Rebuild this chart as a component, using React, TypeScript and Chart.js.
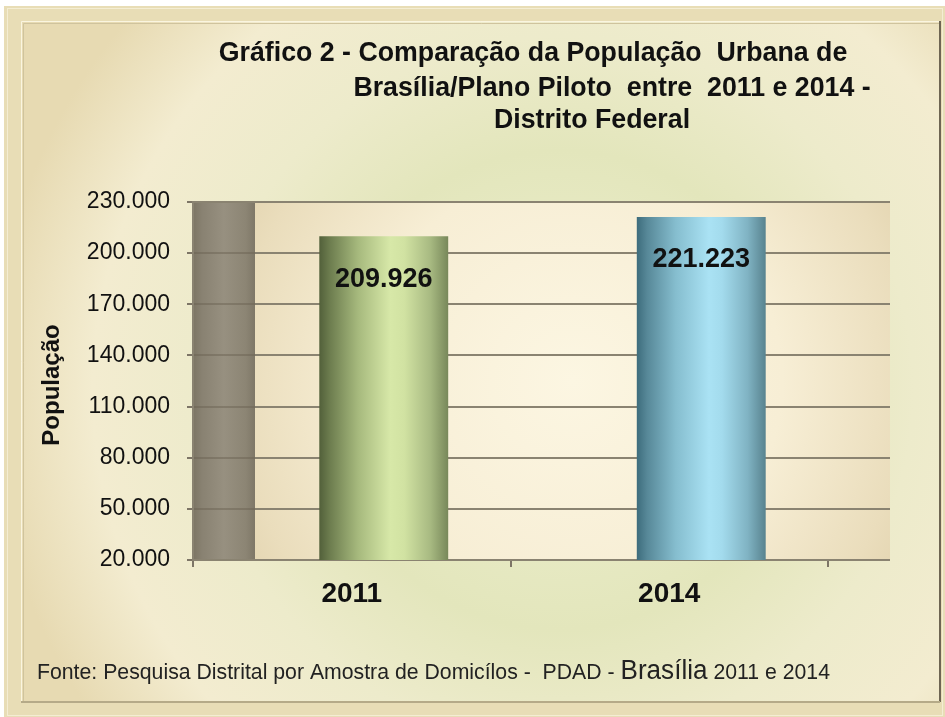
import React, { useEffect, useRef } from 'react';
import { Chart, registerables } from 'chart.js';

Chart.register(...registerables);

// ---------- data ----------
const categories = ['2011', '2014'];
const populationValues = [209926, 221223];
const Y_MIN = 20000;
const Y_MAX = 230000;
const Y_STEP = 30000;
const titleLines = [
  'Gráfico 2 - Comparação da População  Urbana de',
  'Brasília/Plano Piloto  entre  2011 e 2014 -',
  'Distrito Federal',
];
const yAxisTitle = 'População';
const footerParts = ['Fonte: Pesquisa Distrital por Amostra de Domicílos -  PDAD - ', 'Brasília', ' 2011 e 2014'];

// ---------- styling ----------
const FONT = '"Liberation Sans", Arial, sans-serif';
const W = 945;
const H = 717;
const DEPTH = 62; // 3D wall depth offset
const BAR_SHIFT = 32; // bars sit at mid depth
const BAR_PCT = 0.406;

const greenStops: [number, string][] = [
  [0, '#52603A'], [0.08, '#6C7C4E'], [0.3, '#A6B97D'], [0.55, '#D7E8A8'],
  [0.66, '#D1E2A2'], [0.86, '#A8BA82'], [1, '#78885A'],
];
const blueStops: [number, string][] = [
  [0, '#3D6C7C'], [0.08, '#578898'], [0.3, '#85BDCE'], [0.56, '#AAE2F4'],
  [0.66, '#A3DBED'], [0.86, '#80B3C3'], [1, '#58838F'],
];
const barStops = [greenStops, blueStops];

const fmt = (v: number) => Math.round(v).toString().replace(/\B(?=(\d{3})+(?!\d))/g, '.');

const decorPlugin = {
  id: 'decor',
  beforeDraw(chart: any) {
    const { ctx, chartArea: a } = chart;
    ctx.save();
    // page + outer frame
    ctx.fillStyle = '#FFFFFF';
    ctx.fillRect(0, 0, W, H);
    ctx.fillStyle = '#E8DDB6';
    ctx.fillRect(4, 6, W - 4, H - 6);
    ctx.strokeStyle = '#F4EDD3';
    ctx.lineWidth = 1;
    ctx.strokeRect(7.5, 8.5, W - 10, H - 10);

    // inner panel
    const px = 21, py = 21, pw = 919, ph = 681;
    const g = ctx.createRadialGradient(560, 390, 0, 560, 390, 570);
    g.addColorStop(0, '#EEF0D0');
    g.addColorStop(0.42, '#E3E6BC');
    g.addColorStop(0.62, '#EDEBCB');
    g.addColorStop(0.82, '#F3ECD0');
    g.addColorStop(1, '#E7DAB2');
    ctx.fillStyle = g;
    ctx.fillRect(px, py, pw, ph);
    ctx.strokeStyle = '#FAF5E0';
    ctx.beginPath();
    ctx.moveTo(px + 0.5, py + ph);
    ctx.lineTo(px + 0.5, py + 0.5);
    ctx.lineTo(px + pw, py + 0.5);
    ctx.stroke();
    ctx.strokeStyle = '#CFC39D';
    ctx.beginPath();
    ctx.moveTo(px + 2.5, py + ph);
    ctx.lineTo(px + 2.5, py + 2.5);
    ctx.lineTo(px + pw, py + 2.5);
    ctx.stroke();
    ctx.strokeStyle = '#6E6552';
    ctx.lineWidth = 2;
    ctx.beginPath();
    ctx.moveTo(px + pw, py);
    ctx.lineTo(px + pw, py + ph);
    ctx.stroke();
    ctx.strokeStyle = '#B5AA88';
    ctx.beginPath();
    ctx.moveTo(px, py + ph);
    ctx.lineTo(px + pw, py + ph);
    ctx.stroke();

    // side wall
    const sg = ctx.createLinearGradient(a.left, 0, a.left + DEPTH, 0);
    sg.addColorStop(0, '#7C7564');
    sg.addColorStop(0.15, '#898272');
    sg.addColorStop(0.5, '#979080');
    sg.addColorStop(0.85, '#8C8574');
    sg.addColorStop(1, '#7E7767');
    ctx.fillStyle = sg;
    ctx.fillRect(a.left, a.top, DEPTH, a.bottom - a.top);

    // back wall
    const bx = a.left + DEPTH;
    const bw = a.right - a.left;
    const cx = bx + bw / 2;
    const cy = (a.top + a.bottom) / 2;
    const bg = ctx.createRadialGradient(cx, cy, 0, cx, cy, 420);
    bg.addColorStop(0, '#FCF6E2');
    bg.addColorStop(0.5, '#F7EED5');
    bg.addColorStop(0.8, '#EADDBC');
    bg.addColorStop(1, '#DDCDA6');
    ctx.fillStyle = bg;
    ctx.fillRect(bx, a.top, bw, a.bottom - a.top);

    // gridlines from the y scale
    const ys = chart.scales.y;
    ys.ticks.forEach((t: any) => {
      const y = Math.round(ys.getPixelForValue(t.value));
      ctx.strokeStyle = 'rgba(105,96,80,0.45)';
      ctx.lineWidth = 2;
      ctx.beginPath();
      ctx.moveTo(a.left, y);
      ctx.lineTo(bx, y);
      ctx.stroke();
      ctx.strokeStyle = '#8A8371';
      ctx.beginPath();
      ctx.moveTo(bx, y);
      ctx.lineTo(a.right + DEPTH, y);
      ctx.stroke();
    });
    // top edge and floor
    ctx.strokeStyle = '#8A8371';
    ctx.lineWidth = 2;
    ctx.beginPath();
    ctx.moveTo(a.left, Math.round(a.top));
    ctx.lineTo(a.right + DEPTH, Math.round(a.top));
    ctx.moveTo(a.left, Math.round(a.bottom));
    ctx.lineTo(a.right + DEPTH, Math.round(a.bottom));
    ctx.stroke();

    // title
    ctx.fillStyle = '#111111';
    ctx.font = `bold 28px ${FONT}`;
    ctx.textAlign = 'center';
    ctx.textBaseline = 'middle';
    const titlePos: [number, number][] = [[533, 53], [612, 88], [592, 120]];
    titleLines.forEach((line, i) => {
      ctx.save();
      ctx.translate(titlePos[i][0], titlePos[i][1]);
      ctx.scale(0.955, 1);
      ctx.fillText(line, 0, 0);
      ctx.restore();
    });

    // y axis title
    ctx.save();
    ctx.translate(52, 385);
    ctx.rotate(-Math.PI / 2);
    ctx.font = `bold 24px ${FONT}`;
    ctx.fillText(yAxisTitle, 0, 0);
    ctx.restore();

    // footer
    const sizes = [22, 27, 22];
    ctx.textAlign = 'left';
    ctx.textBaseline = 'alphabetic';
    let total = 0;
    const widths = footerParts.map((p, i) => {
      ctx.font = `${sizes[i]}px ${FONT}`;
      const w = ctx.measureText(p).width;
      total += w;
      return w;
    });
    const f = 793 / total;
    ctx.save();
    ctx.translate(37, 679);
    ctx.scale(f, 1);
    let x = 0;
    footerParts.forEach((p, i) => {
      ctx.font = `${sizes[i]}px ${FONT}`;
      ctx.fillStyle = '#222222';
      ctx.fillText(p, x, 0);
      x += widths[i];
    });
    ctx.restore();
    ctx.restore();
  },
  beforeDatasetsDraw(chart: any) {
    chart.ctx.save();
    chart.ctx.translate(BAR_SHIFT, 0);
  },
  afterDatasetsDraw(chart: any) {
    const ctx = chart.ctx;
    ctx.restore();
    const meta = chart.getDatasetMeta(0);
    ctx.save();
    ctx.fillStyle = '#111111';
    ctx.font = `bold 27px ${FONT}`;
    ctx.textAlign = 'center';
    ctx.textBaseline = 'middle';
    meta.data.forEach((bar: any, i: number) => {
      ctx.fillText(fmt(populationValues[i]), bar.x + BAR_SHIFT, bar.y + 43);
    });
    ctx.restore();
  },
};

export default function App() {
  const ref = useRef<HTMLCanvasElement | null>(null);
  useEffect(() => {
    document.body.style.margin = '0';
    const canvas = ref.current;
    if (!canvas) return;
    const chart = new Chart(canvas, {
      type: 'bar',
      data: {
        labels: categories,
        datasets: [
          {
            data: populationValues,
            barPercentage: BAR_PCT,
            categoryPercentage: 1,
            borderWidth: 0,
            backgroundColor: (c: any) => {
              const ch = c.chart;
              const a = ch.chartArea;
              const stops = barStops[c.dataIndex % barStops.length];
              if (!a || c.dataIndex === undefined) return stops[3][1];
              const xs = ch.scales.x;
              const center = xs.getPixelForValue(c.dataIndex);
              const w = ((a.right - a.left) / categories.length) * BAR_PCT;
              const g = ch.ctx.createLinearGradient(center - w / 2, 0, center + w / 2, 0);
              stops.forEach(([p, col]) => g.addColorStop(p, col));
              return g;
            },
          },
        ],
      },
      options: {
        responsive: false,
        animation: false,
        devicePixelRatio: 1,
        layout: { padding: { top: 202, right: 117, bottom: 97, left: 0 } },
        plugins: { legend: { display: false }, tooltip: { enabled: false }, title: { display: false } },
        scales: {
          x: {
            type: 'category',
            offset: true,
            grid: { offset: true, drawOnChartArea: false, drawTicks: true, tickLength: 7, color: '#7D7566', lineWidth: 2 },
            border: { display: true, color: '#8A8371', width: 2 },
            ticks: { font: { family: FONT, size: 28, weight: 'bold' }, color: '#111111', padding: 10 },
            afterFit: (s: any) => { s.height = 60; },
          },
          y: {
            min: Y_MIN,
            max: Y_MAX,
            grid: { drawOnChartArea: false, drawTicks: true, tickLength: 6, color: '#7D7566', lineWidth: 2 },
            border: { display: true, color: '#8A8371', width: 2 },
            ticks: {
              stepSize: Y_STEP,
              callback: (v: any) => fmt(Number(v)),
              font: { family: FONT, size: 23 },
              color: '#111111',
              padding: 17,
            },
            afterFit: (s: any) => { s.width = 193; },
          },
        },
      },
      plugins: [decorPlugin],
    } as any);
    return () => chart.destroy();
  }, []);
  return (
    <div style={{ width: W, height: H }}>
      <canvas ref={ref} width={W} height={H} style={{ display: 'block', width: W, height: H }} />
    </div>
  );
}
